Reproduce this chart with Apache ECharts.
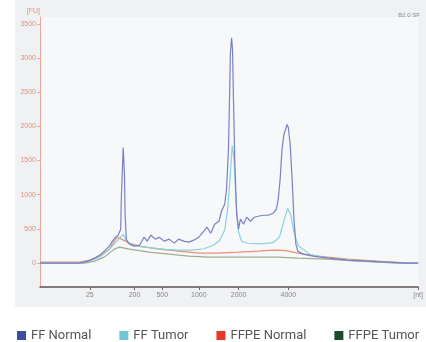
<!DOCTYPE html>
<html>
<head>
<meta charset="utf-8">
<script src="https://cdn.jsdelivr.net/npm/echarts@6/dist/echarts.min.js"></script>
<style>
  html, body { margin: 0; padding: 0; background: #fff; }
  #chart { width: 426px; height: 342px; }
</style>
</head>
<body>
<div id="chart"></div>
<script>
// migration time (s) of the ladder peaks and their sizes
let ladderTimes = [24.9, 32.0, 36.4, 42.2, 48.5, 56.4, 77];
let ladderLabels = ["25", "200", "500", "1000", "2000", "4000", "[nt]"];
let fuTicks = [0, 500, 1000, 1500, 2000, 2500, 3000, 3500];

let seriesNames = ["FF Normal", "FF Tumor", "FFPE Normal", "FFPE Tumor"];
let legendColors = ["#3b4f9d", "#6fc7d5", "#e2392a", "#1b4d2c"];
let lineColors = ["#7a80c6", "#86d3df", "#e8926e", "#a3aa8e"];

// FF Normal
let ffNormalT = [17, 23.3, 24.6, 25.7, 26.5, 27.2, 28.0, 28.5, 29.0, 29.4, 29.8, 29.9, 30.1, 30.2, 30.4, 30.5, 30.7,
  31.0, 31.5, 32.0, 32.8, 33.5, 34.0, 34.6, 35.3, 35.9, 36.7, 37.5, 38.3, 39.0, 39.8, 40.6, 41.4, 42.2, 43.0, 43.5,
  44.1, 44.7, 45.4, 45.8, 46.3, 46.6, 46.9, 47.1, 47.2, 47.4, 47.55, 47.7, 47.9, 48.2, 48.5, 48.8, 49.3, 49.8, 50.4,
  51.0, 51.6, 52.4, 53.2, 54.0, 54.5, 54.8, 55.1, 55.4, 55.7, 56.1, 56.2, 56.4, 56.7, 57.0, 57.3, 57.6, 57.9, 58.7,
  60.3, 62.7, 65.8, 69.0, 72.1, 75.3, 77];
let ffNormalV = [0, 0, 29, 73, 117, 175, 248, 321, 379, 408, 496, 933, 1443, 1691, 1298, 715, 350,
  292, 262, 248, 262, 379, 321, 408, 350, 379, 321, 350, 292, 350, 321, 306, 335, 379, 467, 525,
  437, 569, 612, 758, 860, 1079, 1662, 2537, 3047, 3295, 3120, 2391, 1516, 715, 496, 642, 569, 671, 612,
  671, 685, 700, 700, 729, 787, 933, 1225, 1662, 1881, 1997, 2027, 1983, 1735, 1225, 642, 277, 175, 131,
  102, 73, 44, 29, 15, 0, 0];

// FF Tumor
let ffTumorT = [17, 23.3, 25.0, 26.5, 28.0, 29.0, 29.8, 30.2, 30.7, 31.5, 33.0, 35.0, 37.0, 39.0, 41.0, 43.0, 44.5,
  45.5, 46.3, 46.8, 47.2, 47.5, 47.8, 48.1, 48.5, 49.0, 50.0, 52.0, 54.0, 55.0, 55.8, 56.3, 56.8, 57.3, 58.0, 60.0,
  63.0, 67.0, 72.0, 77];
let ffTumorV = [0, 0, 30, 90, 200, 300, 380, 420, 330, 270, 240, 220, 200, 190, 190, 210, 260,
  330, 480, 800, 1300, 1720, 1500, 900, 450, 320, 290, 280, 300, 380, 650, 800, 700, 450, 250, 120,
  70, 40, 15, 0];

// FFPE Normal
let ffpeNormalT = [17, 23.3, 24.9, 26.4, 28.0, 28.8, 29.3, 29.9, 31.2, 32.7, 35.9, 39.0, 42.2, 45.3, 48.5, 51.6,
  54.0, 55.5, 56.4, 57.9, 61.1, 65.8, 70.5, 75.3, 77];
let ffpeNormalV = [15, 15, 44, 102, 204, 321, 379, 350, 292, 248, 204, 175, 146, 146, 160, 175,
  190, 185, 175, 146, 102, 58, 29, 0, 0];

// FFPE Tumor
let ffpeTumorT = [17, 24.1, 25.7, 27.2, 28.8, 29.6, 31.2, 34.3, 37.5, 40.6, 43.8, 48.5, 51.6, 54.8, 57.9, 62.7,
  67.4, 73.7, 77];
let ffpeTumorV = [0, 0, 29, 87, 204, 233, 204, 160, 131, 102, 87, 87, 87, 87, 73, 58,
  29, 0, 0];

let allT = [ffNormalT, ffTumorT, ffpeNormalT, ffpeTumorT];
let allV = [ffNormalV, ffTumorV, ffpeNormalV, ffpeTumorV];

function pairs(ts, vs) {
  return ts.map(function (t, i) { return [t, vs[i]]; });
}

let chart = echarts.init(document.getElementById("chart"));

let option = {
  animation: false,
  backgroundColor: "#ffffff",
  graphic: [
    { type: "rect", left: 15, top: 0, shape: { width: 411, height: 307 }, style: { fill: "#eff1f3" }, z: -10 },
    { type: "text", right: 6, top: 12, style: { text: "B2.0 SF", fill: "#8a8a8a", font: "6px sans-serif" } }
  ],
  grid: {
    left: 40, right: 5, top: 17, bottom: 55,
    show: true, backgroundColor: "#f7f8f9", borderWidth: 0
  },
  legend: {
    left: 12, top: 324,
    icon: "rect", itemWidth: 9, itemHeight: 9, itemGap: 28,
    textStyle: { fontFamily: "Roboto", fontSize: 13, color: "#555" },
    data: seriesNames.map(function (n, i) {
      return { name: n, itemStyle: { color: legendColors[i] } };
    })
  },
  xAxis: {
    type: "value", min: 17, max: 77,
    axisLine: { onZero: false, lineStyle: { color: "#5e5454", width: 1.5 } },
    axisTick: { customValues: ladderTimes, length: 3, lineStyle: { color: "#6e6464" } },
    axisLabel: {
      customValues: ladderTimes, color: "#888", fontSize: 7, margin: 5,
      formatter: function (v) {
        let i = ladderTimes.indexOf(v);
        return i >= 0 ? ladderLabels[i] : "";
      }
    },
    splitLine: { show: false }
  },
  yAxis: {
    type: "value", min: -350, max: 3600,
    name: "[FU]", nameLocation: "end", nameGap: 2,
    nameTextStyle: { color: "#e8907c", fontSize: 7, align: "right" },
    axisLine: { show: true, lineStyle: { color: "#eba898" } },
    axisTick: { show: true, customValues: fuTicks, length: 3, lineStyle: { color: "#eba898" } },
    axisLabel: {
      customValues: fuTicks, color: "#e8907c", fontSize: 7, margin: 4,
      formatter: function (v) { return String(v); }
    },
    splitLine: { show: false }
  },
  series: seriesNames.map(function (n, i) {
    return {
      name: n, type: "line",
      data: pairs(allT[i], allV[i]),
      showSymbol: false,
      itemStyle: { color: lineColors[i] },
      lineStyle: { color: lineColors[i], width: 1.2 },
      z: 10 - i
    };
  })
};

chart.setOption(option);
</script>
</body>
</html>
